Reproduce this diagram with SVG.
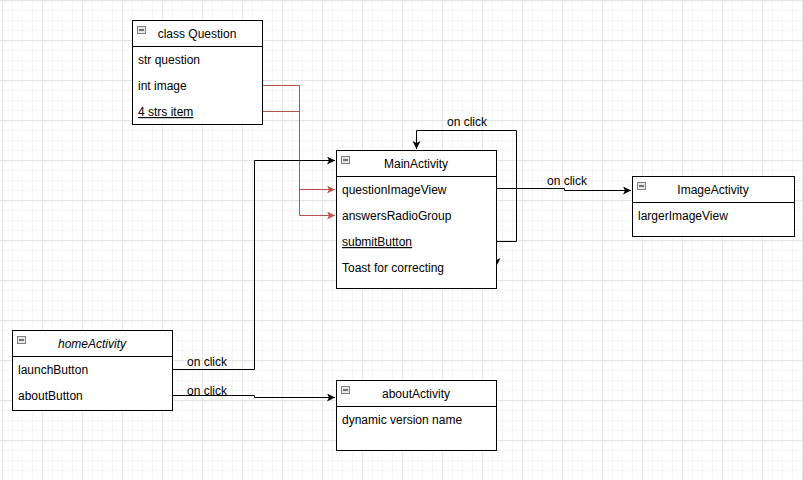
<svg xmlns="http://www.w3.org/2000/svg" width="803" height="480" viewBox="0 0 803 480">
<style>
text{font-family:"Liberation Sans",Arial,sans-serif;font-size:12px;fill:#000}
.box{fill:#fff;stroke:#000;stroke-width:1}
.sep{stroke:#000;stroke-width:1}
.t{text-anchor:middle}
.u{text-decoration:underline}
.e{fill:none;stroke:#000;stroke-width:1}
.r{fill:none;stroke:#b85450;stroke-width:1}
.ib{fill:#e8e8e8;stroke:#808080;stroke-width:1}
.im{stroke:#000;stroke-width:1}
</style>
<defs>
<pattern id="grid" patternUnits="userSpaceOnUse" x="2" y="0" width="40" height="40">
<rect width="40" height="40" fill="#fff"/>
<rect x="10" y="0" width="1" height="40" fill="#f5f5f5"/>
<rect x="20" y="0" width="1" height="40" fill="#f5f5f5"/>
<rect x="30" y="0" width="1" height="40" fill="#f5f5f5"/>
<rect x="0" y="10" width="40" height="1" fill="#f5f5f5"/>
<rect x="0" y="20" width="40" height="1" fill="#f5f5f5"/>
<rect x="0" y="30" width="40" height="1" fill="#f5f5f5"/>
<rect x="0" y="0" width="1" height="40" fill="#e3e3e3"/>
<rect x="0" y="0" width="40" height="1" fill="#e3e3e3"/>
</pattern>
<marker id="ab" markerWidth="10" markerHeight="10" refX="8" refY="4" orient="auto" markerUnits="userSpaceOnUse">
<path d="M0,0 L8,4 L0,8 L2,4 Z" fill="#000"/>
</marker>
<marker id="ar" markerWidth="10" markerHeight="10" refX="8" refY="4" orient="auto" markerUnits="userSpaceOnUse">
<path d="M0,0 L8,4 L0,8 L2,4 Z" fill="#b85450"/>
</marker>
<g id="icon">
<rect x="0.5" y="0.5" width="8" height="7" class="ib"/>
<line x1="2" y1="4" x2="7" y2="4" class="im"/>
</g>
</defs>
<rect width="803" height="480" fill="url(#grid)"/>

<g id="connectors">
<path class="r" d="M262,85.5 H299.5 V189.5 H335" marker-end="url(#ar)"/>
<path class="r" d="M262,111.5 H299.5 V215.5 H335" marker-end="url(#ar)"/>
<path class="e" d="M172,369.5 H254.5 V160.5 H335" marker-end="url(#ab)"/>
<path class="e" d="M172,395.5 H254.5 V397.5 H335" marker-end="url(#ab)"/>
<path class="e" d="M496,241.5 H516.5 V130.5 H416.5 V149" marker-end="url(#ab)"/>
<path class="e" d="M496.5,241 V266" marker-end="url(#ab)"/>
<path class="e" d="M496,188.5 H564.5 V190.5 H631" marker-end="url(#ab)"/>
<text x="467" y="126" class="t">on click</text>
<text x="547" y="185">on click</text>
<text x="187" y="366">on click</text>
<text x="187" y="395">on click</text>
</g>

<g id="question">
<rect x="132.5" y="20.5" width="130" height="104" class="box"/>
<line x1="132" y1="46.5" x2="263" y2="46.5" class="sep"/>
<use href="#icon" x="137" y="26"/>
<text x="197" y="38" class="t">class Question</text>
<text x="138" y="64">str question</text>
<text x="138" y="90">int image</text>
<text x="138" y="116" class="u">4 strs item</text>
</g>

<g id="main">
<rect x="336.5" y="150.5" width="160" height="138" class="box"/>
<line x1="336" y1="176.5" x2="497" y2="176.5" class="sep"/>
<use href="#icon" x="341" y="156"/>
<text x="416" y="168" class="t">MainActivity</text>
<text x="342" y="194">questionImageView</text>
<text x="342" y="220">answersRadioGroup</text>
<text x="342" y="246" class="u">submitButton</text>
<text x="342" y="272">Toast for correcting</text>
</g>

<g id="image">
<rect x="632.5" y="176.5" width="162" height="60" class="box"/>
<line x1="632" y1="202.5" x2="795" y2="202.5" class="sep"/>
<use href="#icon" x="637" y="182"/>
<text x="713" y="194" class="t">ImageActivity</text>
<text x="638" y="220">largerImageView</text>
</g>

<g id="home">
<rect x="12.5" y="330.5" width="160" height="80" class="box"/>
<line x1="12" y1="356.5" x2="173" y2="356.5" class="sep"/>
<use href="#icon" x="17" y="336"/>
<text x="92" y="348" class="t" font-style="italic">homeActivity</text>
<text x="18" y="374">launchButton</text>
<text x="18" y="400">aboutButton</text>
</g>

<g id="about">
<rect x="336.5" y="380.5" width="160" height="70" class="box"/>
<line x1="336" y1="406.5" x2="497" y2="406.5" class="sep"/>
<use href="#icon" x="341" y="386"/>
<text x="416" y="398" class="t">aboutActivity</text>
<text x="342" y="424">dynamic version name</text>
</g>
</svg>
